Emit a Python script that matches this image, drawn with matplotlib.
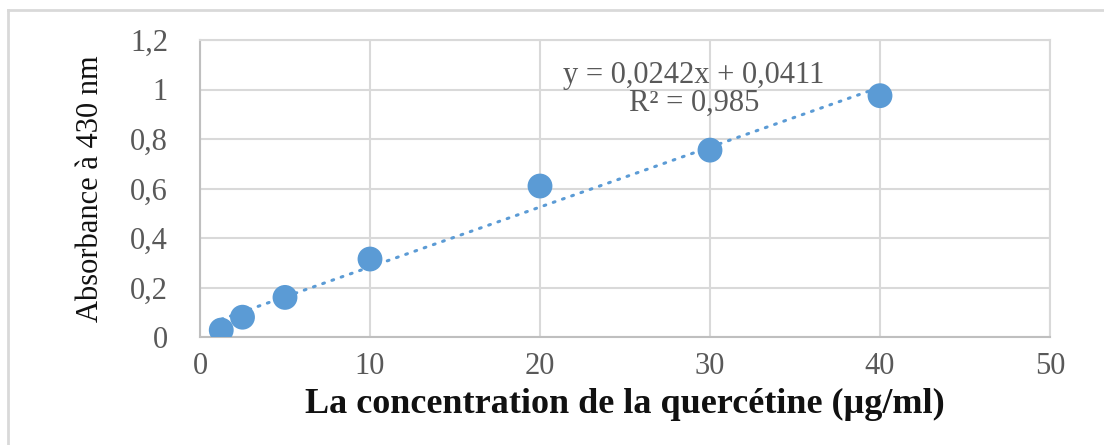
import matplotlib.pyplot as plt
from matplotlib.lines import Line2D
import numpy as np

plt.rcParams['font.family'] = ['Liberation Serif', 'DejaVu Serif']

# concentration (µg/ml) and absorbance at 430 nm
conc = [1.25, 2.5, 5, 10, 20, 30, 40]
absorb = [0.028, 0.080, 0.160, 0.315, 0.610, 0.755, 0.975]

# linear trend line as printed on the chart
slope = 0.0242
intercept = 0.0411
r2 = 0.985

xticks = [0, 10, 20, 30, 40, 50]
yticks = [0, 0.2, 0.4, 0.6, 0.8, 1.0, 1.2]
ytick_labels = ['0', '0,2', '0,4', '0,6', '0,8', '1', '1,2']

W, H = 1104, 445
fig = plt.figure(figsize=(W / 100, H / 100), dpi=100)
ax = fig.add_axes([200 / W, 1 - 337 / H, 850 / W, 297 / H])

# outer chart-area border (only top and left visible)
fig.add_artist(Line2D([8 / W, 1.0], [1 - 10 / H, 1 - 10 / H], color='#d9d9d9', lw=2))
fig.add_artist(Line2D([8 / W, 8 / W], [0, 1 - 10 / H], color='#d9d9d9', lw=2))

blue = '#5b9bd5'
xs = np.array([min(conc), max(conc)])
ax.plot(xs, slope * xs + intercept, color=blue, lw=2.2, ls=(0, (0.6, 2.6)),
        dash_capstyle='round', zorder=2)
ax.scatter(conc, absorb, s=320, color=blue, edgecolor='none', zorder=3)

ax.set_xlim(0, 50)
ax.set_ylim(0, 1.2)
ax.set_xticks(xticks)
ax.set_yticks(yticks)
ax.set_yticklabels(ytick_labels)
ax.grid(True, color='#d9d9d9', lw=1.5)
ax.set_axisbelow(True)
for s in ax.spines.values():
    s.set_color('#d9d9d9')
    s.set_linewidth(1.5)
ax.spines['bottom'].set_color('#bfbfbf')
ax.spines['left'].set_color('#bfbfbf')
ax.tick_params(length=0, labelsize=22, colors='#595959')
ax.tick_params(axis='y', pad=23)
ax.tick_params(axis='x', pad=11)

ax.set_xlabel('La concentration de la quercétine (µg/ml)', fontsize=26,
              fontweight='bold', color='#111111', labelpad=5)
ax.set_ylabel('Absorbance à 430 nm', fontsize=22, color='#111111', labelpad=18)

ax.text(29.05, 1.0, 'y = 0,0242x + 0,0411\nR² = 0,985', fontsize=22,
        color='#595959', ha='center', va='center', multialignment='center',
        linespacing=0.92)

plt.savefig('out.png', dpi=100, facecolor='white')
plt.close()
